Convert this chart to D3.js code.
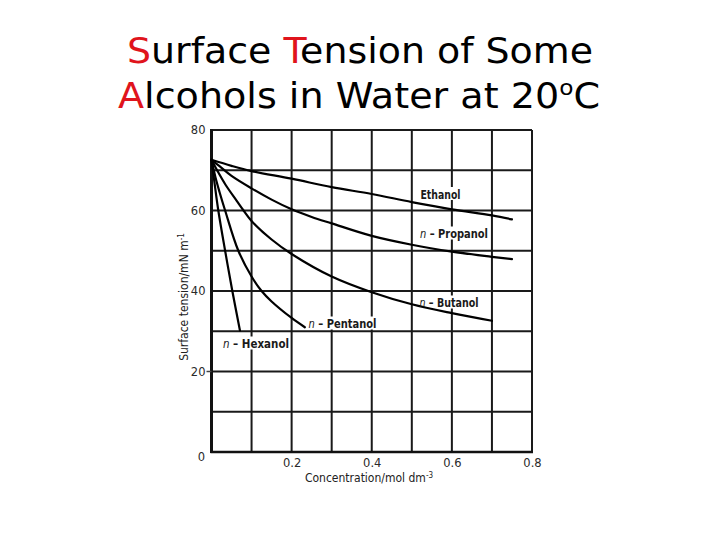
<!DOCTYPE html>
<html>
<head>
<meta charset="utf-8">
<script src="https://cdn.jsdelivr.net/npm/d3@7"></script>
<style>
  body { margin: 0; background: #fff; }
  svg { display: block; }
</style>
</head>
<body>
<svg id="chart" width="720" height="540"></svg>
<script>
// ---- data ----
const seriesNames = ["Ethanol", "n-Propanol", "n-Butanol", "n-Pentanol", "n-Hexanol"];
const ethanol = [[0,72.6],[0.05,71.1],[0.1,69.8],[0.2,67.9],[0.3,65.8],[0.4,64.1],[0.5,62.1],[0.6,60.3],[0.7,58.8],[0.75,57.8]];
const propanol = [[0,72.6],[0.02,71.0],[0.05,68.6],[0.1,65.5],[0.15,62.7],[0.2,60.3],[0.25,58.4],[0.3,56.8],[0.4,53.7],[0.5,51.5],[0.6,49.8],[0.7,48.5],[0.75,47.9]];
const butanol = [[0,72.6],[0.015,69.8],[0.035,66.4],[0.063,62.4],[0.08,60.0],[0.1,57.4],[0.15,52.8],[0.2,49.2],[0.3,43.6],[0.4,39.7],[0.5,36.7],[0.6,34.5],[0.7,32.6]];
const pentanol = [[0,72.6],[0.01,68.2],[0.02,64.6],[0.034,60.0],[0.067,50.0],[0.1,43.6],[0.125,40.0],[0.15,37.4],[0.2,33.3],[0.233,31.0]];
const hexanol = [[0,72.6],[0.008,66.5],[0.017,60.0],[0.034,50.0],[0.052,40.0],[0.071,30.2]];
const xTickLabels = [0.2, 0.4, 0.6, 0.8];
const yTickLabels = [20, 40, 60, 80];
const xGrid = [0.1,0.2,0.3,0.4,0.5,0.6,0.7,0.8];
const yGrid = [10,20,30,40,50,60,70,80];

const svg = d3.select("#chart");
const x = d3.scaleLinear().domain([0, 0.8]).range([211.5, 532]);
const y = d3.scaleLinear().domain([0, 80]).range([452, 130]);

// ---- title ----
const title = svg.append("g").attr("font-family", "'DejaVu Sans', sans-serif").attr("font-size", 36).attr("fill", "#000");
const t1 = title.append("text").attr("x", 127).attr("y", 63).attr("textLength", 466).attr("lengthAdjust", "spacingAndGlyphs");
t1.append("tspan").attr("fill", "#e0141c").text("S");
t1.append("tspan").text("urface ");
t1.append("tspan").attr("fill", "#e0141c").text("T");
t1.append("tspan").text("ension of Some");
const t2 = title.append("text").attr("x", 118).attr("y", 108).attr("textLength", 482).attr("lengthAdjust", "spacingAndGlyphs");
t2.append("tspan").attr("fill", "#e0141c").text("A");
t2.append("tspan").text("lcohols in Water at 20");
t2.append("tspan").attr("font-size", 22).attr("dy", -13).text("o");
t2.append("tspan").attr("dy", 13).text("C");

// ---- grid ----
const grid = svg.append("g").attr("stroke", "#1a1a1a").attr("stroke-width", 2);
grid.selectAll("line.v").data(xGrid).join("line")
  .attr("x1", d => x(d)).attr("x2", d => x(d))
  .attr("y1", y(80)).attr("y2", y(0));
grid.selectAll("line.h").data(yGrid).join("line")
  .attr("x1", x(0)).attr("x2", x(0.8))
  .attr("y1", d => y(d)).attr("y2", d => y(d));
svg.append("line").attr("x1", x(0)).attr("x2", x(0)).attr("y1", y(80) - 1).attr("y2", y(0) + 1)
  .attr("stroke", "#111").attr("stroke-width", 3);
svg.append("line").attr("x1", x(0) - 1).attr("x2", x(0.8) + 1).attr("y1", y(0)).attr("y2", y(0))
  .attr("stroke", "#111").attr("stroke-width", 2.5);
svg.append("line").attr("x1", x(0) - 5).attr("x2", x(0)).attr("y1", y(20)).attr("y2", y(20))
  .attr("stroke", "#444").attr("stroke-width", 1.5);

// ---- axes labels via d3 axes ----
const xAxis = d3.axisBottom(x).tickValues(xTickLabels).tickSize(0).tickPadding(6).tickFormat(d3.format(".1f"));
const gx = svg.append("g").attr("transform", `translate(0,${y(0) + 1})`).call(xAxis);
gx.select(".domain").remove();
gx.selectAll("text").attr("font-family", "'DejaVu Sans', sans-serif").attr("font-size", 11.5).attr("fill", "#2a2a2a");

const yAxis = d3.axisLeft(y).tickValues(yTickLabels).tickSize(0).tickPadding(5);
const gy = svg.append("g").attr("transform", `translate(${x(0) - 1},0)`).call(yAxis);
gy.select(".domain").remove();
gy.selectAll("text").attr("font-family", "'DejaVu Sans', sans-serif").attr("font-size", 11.5).attr("fill", "#2a2a2a");

svg.append("text").attr("x", 201.5).attr("y", y(0) + 9).attr("text-anchor", "middle")
  .attr("font-family", "'DejaVu Sans', sans-serif").attr("font-size", 11.5).attr("fill", "#2a2a2a").text("0");

// axis titles
const labFont = "'Liberation Sans Narrow', 'DejaVu Sans Condensed', sans-serif";
const xt = svg.append("text").attr("x", 369).attr("y", 482).attr("text-anchor", "middle")
  .attr("font-family", labFont).attr("font-size", 12).attr("fill", "#222");
xt.append("tspan").text("Concentration/mol dm");
xt.append("tspan").attr("font-size", 8).attr("dy", -4).text("-3");

const yt = svg.append("text").attr("transform", `translate(188,${y(40) + 6}) rotate(-90)`).attr("text-anchor", "middle")
  .attr("font-family", labFont).attr("font-size", 12).attr("fill", "#222");
yt.append("tspan").text("Surface tension/mN m");
yt.append("tspan").attr("font-size", 8).attr("dy", -4).text("-1");

// ---- curve label backgrounds (interrupt grid) ----
const labels = [
  {name: "Ethanol", pre: "", cx: 440.5, cy: 194, w: 40},
  {name: "Propanol", pre: "n", cx: 454, cy: 233.5, w: 68},
  {name: "Butanol", pre: "n", cx: 449, cy: 302.5, w: 59},
  {name: "Pentanol", pre: "n", cx: 342.5, cy: 323.5, w: 68},
  {name: "Hexanol", pre: "n", cx: 256, cy: 343.5, w: 66}
];
const bg = svg.append("g");
labels.forEach(l => {
  bg.append("rect").attr("x", l.cx - l.w / 2 - 1).attr("y", l.cy - 7).attr("width", l.w + 2).attr("height", 13).attr("fill", "#fff");
});

// ---- curves ----
const line = d3.line().x(d => x(d[0])).y(d => y(d[1])).curve(d3.curveCatmullRom.alpha(0.5));
const allSeries = [ethanol, propanol, butanol, pentanol, hexanol];
svg.append("g").selectAll("path").data(allSeries).join("path")
  .attr("d", line).attr("fill", "none").attr("stroke", "#000").attr("stroke-width", 2.2)
  .attr("stroke-linejoin", "round").attr("stroke-linecap", "round");

// ---- curve label text ----
const lg = svg.append("g");
labels.forEach(l => {
  const t = lg.append("text").attr("x", l.cx - l.w / 2).attr("y", l.cy + 4.5)
    .attr("font-family", labFont).attr("font-size", 13).attr("font-weight", "bold").attr("fill", "#1a1a1a")
    .attr("textLength", l.w).attr("lengthAdjust", "spacingAndGlyphs");
  if (l.pre) {
    t.append("tspan").attr("font-style", "italic").attr("font-weight", "normal").text(l.pre);
    t.append("tspan").text(" \u2013 " + l.name);
  } else {
    t.append("tspan").text(l.name);
  }
});
</script>
</body>
</html>
